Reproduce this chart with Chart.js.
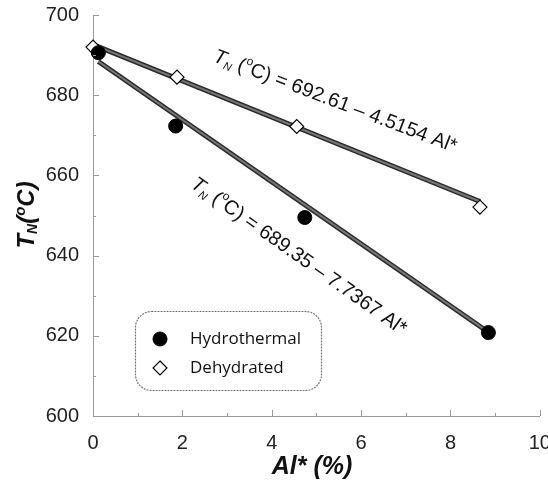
<!DOCTYPE html>
<html>
<head>
<meta charset="utf-8">
<script src="https://cdn.jsdelivr.net/npm/chart.js@4.4.0/dist/chart.umd.min.js"></script>
<style>
  html, body { margin: 0; padding: 0; background: #fff; }
  #wrap { width: 548px; height: 497px; }
</style>
</head>
<body>
<div id="wrap"><canvas id="c"></canvas></div>
<script>
// Data
// ================================================================================
const alHydro = [0.12, 1.85, 4.74, 8.85];
const tnHydro = [690.6, 672.3, 649.5, 620.8];

const alDehyd = [0.0, 1.88, 4.56, 8.66];
const tnDehyd = [692.0, 684.5, 672.2, 652.1];

// fit line end points
const fitHydroAl = [0.12, 8.85];
const fitHydroTn = [688.4, 620.9];
const fitDehydAl = [0.0, 8.66];
const fitDehydTn = [692.6, 653.5];

const legendLabels = ["Hydrothermal", "Dehydrated"];

const toPts = (xs, ys) => xs.map((x, i) => ({x: x, y: ys[i]}));

const SANS = '"Liberation Sans", Arial, sans-serif';

// Rich text helper: segments [{t, font, dy}], centred on (x, y)
function drawRich(ctx, segs, x, y, angle) {
	ctx.save();
	ctx.translate(x, y);
	ctx.rotate(angle);
	let total = 0;
	segs.forEach(s => { ctx.font = s.font; total += ctx.measureText(s.t).width; });
	let cx = -total / 2;
	ctx.textBaseline = 'middle';
	ctx.textAlign = 'left';
	segs.forEach(s => {
		ctx.font = s.font;
		ctx.fillText(s.t, cx, s.dy || 0);
		cx += ctx.measureText(s.t).width;
	});
	ctx.restore();
}

function eqSegs(a, b) {
	const f = '20px ' + SANS;
	return [
		{t: 'T', font: 'italic ' + f},
		{t: 'N', font: 'italic 11px ' + SANS, dy: 6},
		{t: ' (', font: f},
		{t: 'o', font: '12px ' + SANS, dy: -7},
		{t: 'C) = ' + a + ' \u2013 ' + b + ' Al*', font: f}
	];
}

const extras = {
	id: 'extras',
	afterDatasetsDraw(chart) {
		const ctx = chart.ctx;
		const xs = chart.scales.x, ys = chart.scales.y;
		const area = chart.chartArea;

		// inside minor / major ticks
		ctx.save();
		ctx.strokeStyle = '#999';
		ctx.lineWidth = 1;
		for (let v = 610; v <= 700; v += 10) {
			const py = Math.round(ys.getPixelForValue(v)) + 0.5;
			ctx.beginPath();
			ctx.moveTo(area.left, py);
			ctx.lineTo(area.left + (v % 20 === 0 ? 6 : 3), py);
			ctx.stroke();
		}
		for (let v = 1; v <= 10; v += 1) {
			const px = Math.round(xs.getPixelForValue(v)) + 0.5;
			ctx.beginPath();
			ctx.moveTo(px, area.bottom);
			ctx.lineTo(px, area.bottom - (v % 2 === 0 ? 6 : 3));
			ctx.stroke();
		}
		ctx.restore();

		// equations
		ctx.save();
		ctx.fillStyle = '#111';
		drawRich(ctx, eqSegs('692.61', '4.5154'),
			xs.getPixelForValue(5.42), ys.getPixelForValue(678.4), 20.8 * Math.PI / 180);
		drawRich(ctx, eqSegs('689.35', '7.7367'),
			xs.getPixelForValue(4.6), ys.getPixelForValue(639.8), 35.2 * Math.PI / 180);
		ctx.restore();

		// axis titles
		ctx.save();
		ctx.fillStyle = '#111';
		const B = 'bold italic ';
		drawRich(ctx, [
			{t: 'T', font: B + '24px ' + SANS},
			{t: 'N', font: B + '14px ' + SANS, dy: 6},
			{t: '(', font: B + '24px ' + SANS},
			{t: 'o', font: B + '15px ' + SANS, dy: -6},
			{t: 'C)', font: B + '24px ' + SANS}
		], 27, 215, -Math.PI / 2);
		drawRich(ctx, [
			{t: 'Al* (%)', font: B + '25px ' + SANS}
		], 312, 467, 0);
		ctx.restore();

		// legend box
		ctx.save();
		const bx = 135, by = 311, bw = 186, bh = 79;
		ctx.fillStyle = '#fff';
		ctx.strokeStyle = '#777';
		ctx.setLineDash([2, 1]);
		ctx.lineWidth = 1.2;
		ctx.beginPath();
		ctx.roundRect(bx + 0.5, by + 0.5, bw, bh, 16);
		ctx.fill();
		ctx.stroke();
		ctx.setLineDash([]);
		const ds = chart.data.datasets;
		[0, 1].forEach((k, i) => {
			const d = ds[k];
			const mx = bx + 25, my = by + 28 + i * 29;
			ctx.fillStyle = d.backgroundColor;
			ctx.strokeStyle = d.borderColor;
			ctx.lineWidth = d.borderWidth;
			ctx.beginPath();
			const r = d.pointRadius;
			if (d.pointStyle === 'circle') {
				ctx.arc(mx, my, r, 0, Math.PI * 2);
			} else {
				ctx.moveTo(mx, my - r); ctx.lineTo(mx + r, my);
				ctx.lineTo(mx, my + r); ctx.lineTo(mx - r, my);
				ctx.closePath();
			}
			ctx.fill();
			ctx.stroke();
			ctx.fillStyle = '#111';
			ctx.font = '17px "Open Sans", sans-serif';
			ctx.textBaseline = 'middle';
			ctx.textAlign = 'left';
			ctx.fillText(legendLabels[i], bx + 55, my);
		});
		ctx.restore();
	}
};

const fitLine = (label, xs, ys, color, width, order) => ({
	label: label,
	data: toPts(xs, ys),
	showLine: true,
	borderColor: color,
	borderWidth: width,
	pointRadius: 0,
	clip: false,
	order: order
});

new Chart(document.getElementById('c'), {
	type: 'scatter',
	data: {
		datasets: [
			{
				label: legendLabels[0],
				data: toPts(alHydro, tnHydro),
				pointStyle: 'circle',
				pointRadius: 7,
				backgroundColor: '#000',
				borderColor: '#000',
				borderWidth: 1,
				clip: false,
				order: 0
			},
			{
				label: legendLabels[1],
				data: toPts(alDehyd, tnDehyd),
				pointStyle: 'rectRot',
				pointRadius: 7,
				backgroundColor: '#fff',
				borderColor: '#000',
				borderWidth: 1.2,
				clip: false,
				order: 0
			},
			fitLine('fit hydro', fitHydroAl, fitHydroTn, '#2a2a2a', 5, 2),
			fitLine('fit dehyd', fitDehydAl, fitDehydTn, '#2a2a2a', 5, 2),
			fitLine('fit hydro core', fitHydroAl, fitHydroTn, '#777', 2, 1),
			fitLine('fit dehyd core', fitDehydAl, fitDehydTn, '#777', 2, 1)
		]
	},
	options: {
		responsive: true,
		maintainAspectRatio: false,
		animation: false,
		layout: { padding: { top: 15, right: 8, left: 0, bottom: 0 } },
		plugins: { legend: { display: false }, tooltip: { enabled: false } },
		scales: {
			x: {
				type: 'linear',
				min: 0, max: 10,
				grid: { display: false },
				border: { display: true, color: '#999', dash: [2, 2] },
				ticks: {
					stepSize: 2,
					padding: 7,
					color: '#222',
					font: { family: SANS, size: 20 }
				},
				afterFit(s) { s.height = 81; s.paddingRight = 0; s.paddingLeft = 0; }
			},
			y: {
				type: 'linear',
				min: 600, max: 700,
				grid: { display: false },
				border: { display: true, color: '#999', dash: [2, 2] },
				ticks: {
					stepSize: 20,
					padding: 6,
					color: '#222',
					font: { family: SANS, size: 20 }
				},
				afterFit(s) { s.width = 93; s.paddingTop = 0; s.paddingBottom = 0; }
			}
		}
	},
	plugins: [extras]
});
</script>
</body>
</html>
